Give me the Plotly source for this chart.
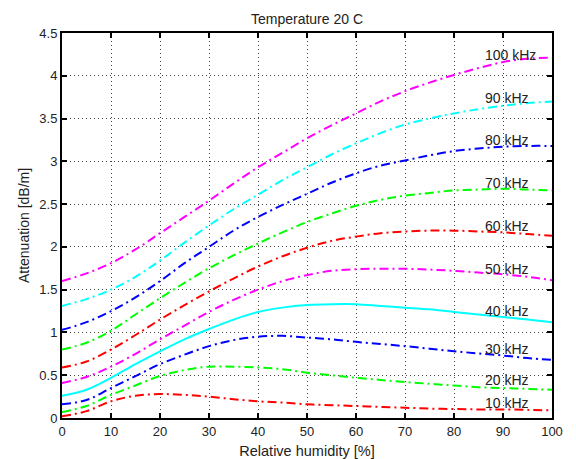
import plotly.graph_objects as go

humidity = [0, 5, 10, 15, 20, 25, 30, 35, 40, 45, 50, 55, 60, 65, 70, 75, 80, 85, 90, 95, 100]

att_10k = [0.02, 0.08, 0.195, 0.26, 0.28, 0.27, 0.25, 0.22, 0.195, 0.18, 0.16, 0.15, 0.14, 0.13, 0.12, 0.11, 0.105, 0.10, 0.10, 0.095, 0.09]
att_20k = [0.07, 0.14, 0.27, 0.38, 0.49, 0.56, 0.60, 0.60, 0.59, 0.57, 0.53, 0.50, 0.47, 0.445, 0.42, 0.40, 0.38, 0.36, 0.35, 0.34, 0.33]
att_30k = [0.16, 0.21, 0.35, 0.49, 0.63, 0.74, 0.84, 0.91, 0.95, 0.96, 0.94, 0.92, 0.89, 0.865, 0.84, 0.81, 0.78, 0.755, 0.73, 0.70, 0.68]
att_40k = [0.26, 0.33, 0.47, 0.63, 0.78, 0.92, 1.04, 1.15, 1.24, 1.29, 1.32, 1.33, 1.33, 1.31, 1.29, 1.27, 1.24, 1.21, 1.18, 1.15, 1.12]
att_50k = [0.41, 0.48, 0.60, 0.75, 0.92, 1.08, 1.24, 1.38, 1.50, 1.60, 1.67, 1.72, 1.74, 1.745, 1.745, 1.735, 1.72, 1.70, 1.68, 1.65, 1.61]
att_60k = [0.59, 0.66, 0.80, 0.97, 1.15, 1.32, 1.48, 1.63, 1.77, 1.89, 1.99, 2.07, 2.12, 2.16, 2.18, 2.19, 2.19, 2.18, 2.17, 2.15, 2.13]
att_70k = [0.80, 0.88, 1.02, 1.21, 1.40, 1.58, 1.75, 1.90, 2.04, 2.17, 2.29, 2.39, 2.48, 2.55, 2.60, 2.63, 2.66, 2.67, 2.68, 2.67, 2.66]
att_80k = [1.03, 1.12, 1.25, 1.41, 1.60, 1.81, 2.00, 2.19, 2.35, 2.49, 2.62, 2.75, 2.86, 2.95, 3.01, 3.07, 3.12, 3.15, 3.17, 3.18, 3.18]
att_90k = [1.31, 1.39, 1.50, 1.65, 1.84, 2.05, 2.25, 2.44, 2.61, 2.78, 2.93, 3.08, 3.21, 3.33, 3.43, 3.50, 3.56, 3.61, 3.65, 3.68, 3.70]
att_100k = [1.60, 1.69, 1.81, 1.97, 2.16, 2.35, 2.54, 2.74, 2.93, 3.10, 3.27, 3.42, 3.56, 3.70, 3.82, 3.92, 4.01, 4.09, 4.16, 4.20, 4.21]

series_names = ["10 kHz", "20 kHz", "30 kHz", "40 kHz", "50 kHz", "60 kHz", "70 kHz", "80 kHz", "90 kHz", "100 kHz"]
series_values = [att_10k, att_20k, att_30k, att_40k, att_50k, att_60k, att_70k, att_80k, att_90k, att_100k]
series_colors = ["#ff0000", "#00ff00", "#0000ff", "#00ffff", "#ff00ff",
                 "#ff0000", "#00ff00", "#0000ff", "#00ffff", "#ff00ff"]
series_dash = ["9px,4px,2px,4px"] * 3 + ["solid"] + ["9px,4px,2px,4px"] * 6

label_x = 86
label_y = [0.17, 0.44, 0.81, 1.25, 1.74, 2.24, 2.75, 3.25, 3.74, 4.24]

x_ticks = [0, 10, 20, 30, 40, 50, 60, 70, 80, 90, 100]
y_ticks = [0, 0.5, 1, 1.5, 2, 2.5, 3, 3.5, 4, 4.5]

FONT = "Liberation Sans, Arial"

fig = go.Figure()
for name, vals, col, dash in zip(series_names, series_values, series_colors, series_dash):
    fig.add_trace(go.Scatter(x=humidity, y=vals, mode="lines", name=name,
                             line=dict(color=col, width=2, dash=dash, shape="spline"),
                             showlegend=False))

for name, ly in zip(series_names, label_y):
    fig.add_annotation(x=label_x, y=ly, text=name, showarrow=False, xanchor="left",
                       yanchor="middle", font=dict(family=FONT, size=14, color="#222"),
                       xref="x", yref="y")

axis_common = dict(showline=True, linecolor="black", linewidth=2, mirror="allticks",
                   ticks="inside", ticklen=5, tickwidth=2, tickcolor="black",
                   showgrid=True, gridcolor="#444", gridwidth=1, griddash="1px,3px",
                   zeroline=False, automargin=False,
                   tickfont=dict(family=FONT, size=13, color="#222"))

fig.update_xaxes(range=[0, 100], tickvals=x_ticks, **axis_common,
                 title=dict(text="Relative humidity [%]", standoff=8,
                            font=dict(family=FONT, size=14.5, color="#222")))
fig.update_yaxes(range=[0, 4.5], tickvals=y_ticks, **axis_common,
                 title=dict(text="Attenuation [dB/m]", standoff=6,
                            font=dict(family=FONT, size=14, color="#222")))

fig.update_layout(
    width=576, height=459,
    margin=dict(l=62, r=24, t=33, b=41),
    paper_bgcolor="white", plot_bgcolor="white",
    title=dict(text="Temperature 20 C", x=0.5, xanchor="center", y=1 - 19 / 459, yanchor="middle",
               xref="paper",
               font=dict(family=FONT, size=14, color="#222")),
)

fig.write_html("out.html")
